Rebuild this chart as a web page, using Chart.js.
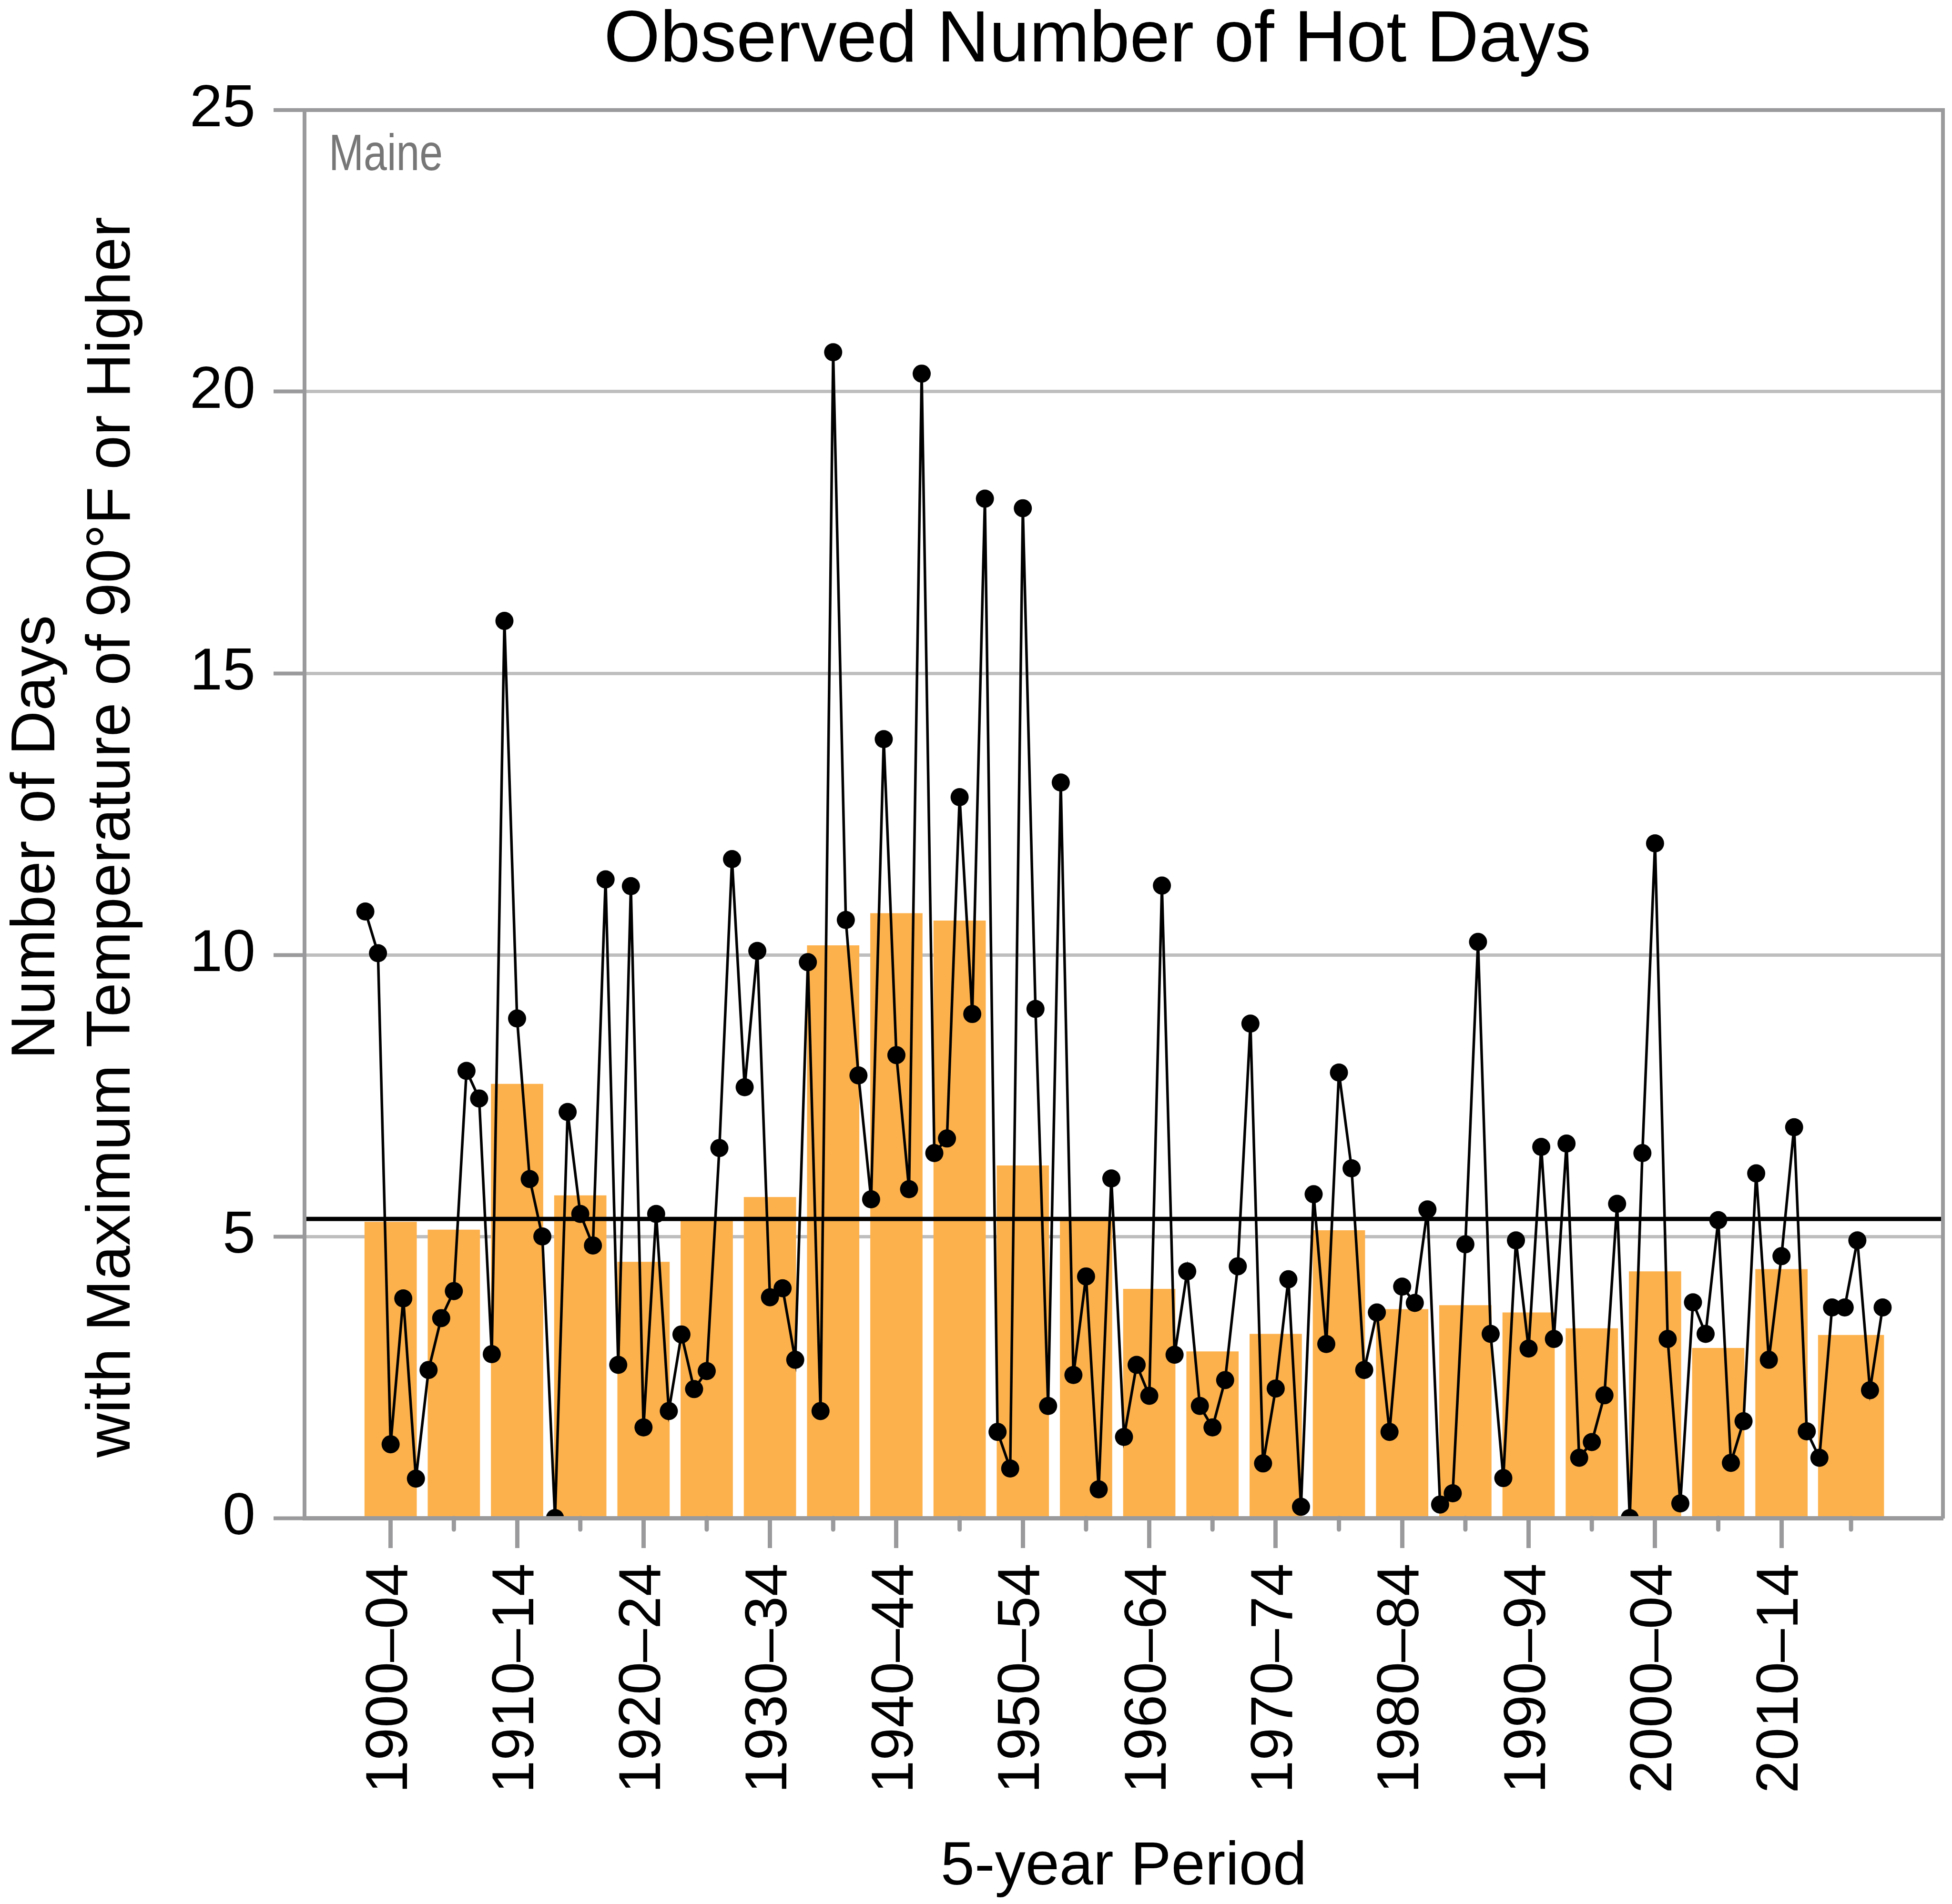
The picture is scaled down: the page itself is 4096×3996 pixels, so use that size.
<!DOCTYPE html>
<html>
<head>
<meta charset="utf-8">
<script src="https://cdn.jsdelivr.net/npm/chart.js@4.4.1/dist/chart.umd.min.js"></script>
<style>
html,body{margin:0;padding:0;background:#ffffff;overflow:hidden}
canvas{display:block}
</style>
</head>
<body>
<canvas id="c" width="4096" height="3996" style="width:4096px;height:3996px"></canvas>
<script>
// ---------------- DATA ----------------
const firstYear = 1900;
const hotDays = [
  10.77, 10.03, 1.31, 3.90, 0.70, 2.63, 3.55, 4.03, 7.94, 7.45,
  2.91, 15.93, 8.87, 6.02, 5.00, 0.00, 7.21, 5.40, 4.84, 11.34,
  2.72, 11.22, 1.61, 5.40, 1.90, 3.26, 2.29, 2.61, 6.57, 11.70,
  7.65, 10.07, 3.92, 4.08, 2.81, 9.87, 1.90, 20.70, 10.62, 7.86,
  5.66, 13.83, 8.22, 5.84, 20.32, 6.48, 6.74, 12.80, 8.95, 18.10,
  1.53, 0.88, 17.93, 9.04, 1.99, 13.06, 2.54, 4.29, 0.51, 6.03,
  1.44, 2.72, 2.17, 11.23, 2.90, 4.38, 1.99, 1.61, 2.45, 4.47,
  8.78, 0.97, 2.30, 4.24, 0.20, 5.75, 3.09, 7.91, 6.21, 2.63,
  3.65, 1.53, 4.11, 3.82, 5.48, 0.24, 0.44, 4.86, 10.23, 3.27,
  0.71, 4.93, 3.01, 6.59, 3.18, 6.65, 1.07, 1.35, 2.18, 5.58,
  0.00, 6.48, 11.98, 3.18, 0.26, 3.83, 3.27, 5.29, 0.98, 1.72,
  6.12, 2.81, 4.65, 6.94, 1.54, 1.07, 3.74, 3.74, 4.93, 2.27,
  3.74
];
const periodStarts = [1900,1905,1910,1915,1920,1925,1930,1935,1940,1945,1950,1955,
                      1960,1965,1970,1975,1980,1985,1990,1995,2000,2005,2010,2015];
const periodEnds   = [1904,1909,1914,1919,1924,1929,1934,1939,1944,1949,1954,1959,
                      1964,1969,1974,1979,1984,1989,1994,1999,2004,2009,2014,2020];
const periodLabels = ['1900–04','1905–09','1910–14','1915–19','1920–24','1925–29',
                      '1930–34','1935–39','1940–44','1945–49','1950–54','1955–59',
                      '1960–64','1965–69','1970–74','1975–79','1980–84','1985–89',
                      '1990–94','1995–99','2000–04','2005–09','2010–14','2015–20'];
const periodMeans  = [5.26, 5.12, 7.71, 5.73, 4.55, 5.28, 5.70, 10.17, 10.74, 10.61, 6.26, 5.28,
                      4.07, 2.96, 3.27, 5.11, 3.71, 3.78, 3.65, 3.37, 4.38, 3.02, 4.42, 3.25];
const longTermAverage = 5.31;
const yTickValues = [0, 5, 10, 15, 20, 25];

// ---------------- LAYOUT / STYLE ----------------
const X_MIN = 1895.19, X_MAX = 2024.77;
const AXIS_GRAY = '#9a9a9c';
const GRID_GRAY = '#bebebe';
const BAR_COLOR = '#fdb14c';
const FONT = '"Liberation Sans", Arial, sans-serif';

const centers = periodStarts.map((s, i) => (s + periodEnds[i]) / 2);
const lastIdx = periodStarts.length - 1;
const majorIdx = periodStarts.map((s, i) => i).filter(i => i % 2 === 0 && i < lastIdx);
const minorIdx = periodStarts.map((s, i) => i).filter(i => i % 2 === 1);

const decor = {
  id: 'decor',
  afterDraw(chart) {
    const { ctx, chartArea: a, scales } = chart;
    const x = scales.x;
    ctx.save();
    // minor x ticks
    ctx.strokeStyle = AXIS_GRAY;
    ctx.lineWidth = 9;
    ctx.lineCap = 'round';
    minorIdx.forEach(i => {
      const px = x.getPixelForValue(centers[i]);
      ctx.beginPath();
      ctx.moveTo(px, a.bottom);
      ctx.lineTo(px, a.bottom + 24);
      ctx.stroke();
    });
    // title
    ctx.fillStyle = '#000';
    ctx.textBaseline = 'alphabetic';
    ctx.textAlign = 'center';
    ctx.font = '151.5px ' + FONT;
    ctx.fillText('Observed Number of Hot Days', a.left + 1664, 129);
    // x title
    ctx.font = '128px ' + FONT;
    ctx.fillText('5-year Period', (a.left + a.right) / 2, 3955);
    // y title
    ctx.save();
    ctx.translate(114, 1757);
    ctx.rotate(-Math.PI / 2);
    ctx.font = '129px ' + FONT;
    ctx.fillText('Number of Days', 0, 0);
    ctx.fillText('with Maximum Temperature of 90°F or Higher', 0, 158);
    ctx.restore();
    // state label
    ctx.save();
    ctx.translate(a.left + 51, a.top + 126);
    ctx.scale(0.82, 1);
    ctx.textAlign = 'left';
    ctx.fillStyle = '#777777';
    ctx.font = '107px ' + FONT;
    ctx.fillText('Maine', 0, 0);
    ctx.restore();
    ctx.restore();
  }
};

new Chart(document.getElementById('c').getContext('2d'), {
  type: 'bar',
  data: {
    datasets: [
      {
        type: 'line',
        label: 'Annual',
        data: hotDays.map((v, i) => ({ x: firstYear + i, y: v })),
        borderColor: '#000',
        backgroundColor: '#000',
        borderWidth: 5.5,
        pointRadius: 19,
        pointHoverRadius: 19,
        pointBorderWidth: 0,
        pointBackgroundColor: '#000',
        tension: 0,
        clip: 0,
        order: 0
      },
      {
        type: 'line',
        label: 'Average',
        data: [{ x: X_MIN, y: longTermAverage }, { x: X_MAX, y: longTermAverage }],
        borderColor: '#000',
        borderWidth: 9,
        pointRadius: 0,
        order: 1
      },
      {
        type: 'bar',
        label: 'Period mean',
        data: periodMeans.slice(0, lastIdx).map((v, i) => ({ x: centers[i], y: v })),
        backgroundColor: BAR_COLOR,
        borderWidth: 0,
        barPercentage: 0.827,
        categoryPercentage: 1,
        grouped: false,
        order: 2
      },
      {
        type: 'bar',
        label: 'Last period mean',
        data: [{ x: centers[lastIdx], y: periodMeans[lastIdx] }],
        backgroundColor: BAR_COLOR,
        borderWidth: 0,
        barPercentage: 1.044,
        categoryPercentage: 1,
        grouped: false,
        order: 2
      }
    ]
  },
  options: {
    responsive: false,
    devicePixelRatio: 1,
    animation: false,
    events: [],
    layout: { padding: { top: 231, left: 0, right: 0, bottom: 0 } },
    plugins: { legend: { display: false }, title: { display: false }, tooltip: { enabled: false } },
    scales: {
      x: {
        type: 'linear',
        min: X_MIN,
        max: X_MAX,
        offset: false,
        afterBuildTicks: (scale) => { scale.ticks = majorIdx.map(i => ({ value: centers[i] })); },
        afterFit: (scale) => { scale.height = 810; },
        ticks: {
          autoSkip: false,
          minRotation: 90,
          maxRotation: 90,
          padding: 32,
          color: '#000',
          font: { family: FONT, size: 124 },
          callback: (value, index) => periodLabels[majorIdx[index]]
        },
        grid: {
          offset: false,
          drawOnChartArea: false,
          drawTicks: true,
          tickLength: 63,
          tickWidth: 9,
          tickColor: AXIS_GRAY
        },
        border: { display: true, color: AXIS_GRAY, width: 9, z: 1 }
      },
      y: {
        type: 'linear',
        position: 'left',
        min: 0,
        max: 25,
        afterBuildTicks: (scale) => { scale.ticks = yTickValues.map(v => ({ value: v })); },
        afterFit: (scale) => { scale.width = 639; },
        ticks: {
          padding: 38,
          color: '#000',
          font: { family: FONT, size: 124 },
          callback: (value) => String(value)
        },
        grid: {
          color: (c) => (c.tick && c.tick.value === 25) ? AXIS_GRAY : GRID_GRAY,
          lineWidth: (c) => (c.tick && c.tick.value === 25) ? 8 : 7,
          tickLength: 65,
          tickWidth: 8,
          tickColor: AXIS_GRAY
        },
        border: { display: true, color: AXIS_GRAY, width: 8, z: 1 }
      },
      y2: {
        type: 'linear',
        position: 'right',
        min: 0,
        max: 25,
        afterFit: (scale) => { scale.width = 8; },
        ticks: { display: false },
        grid: { drawOnChartArea: false, drawTicks: false },
        border: { display: true, color: AXIS_GRAY, width: 8, z: 1 }
      }
    }
  },
  plugins: [decor]
});
</script>
</body>
</html>
